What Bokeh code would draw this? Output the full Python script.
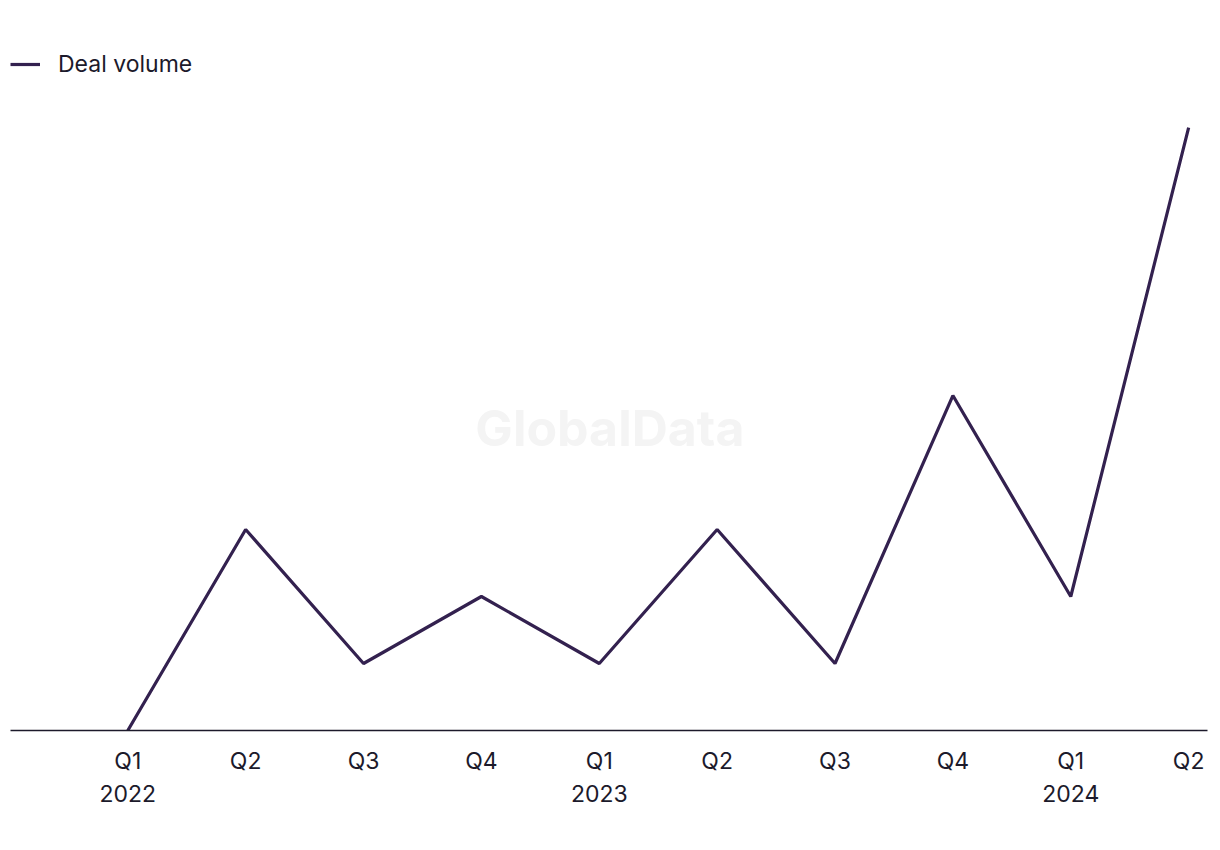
from bokeh.plotting import figure
from bokeh.models import Range1d, Legend, LegendItem, Label, FixedTicker
from bokeh.embed import file_html
from bokeh.resources import INLINE

quarters = ["Q1\n2022", "Q2", "Q3", "Q4", "Q1\n2023", "Q2", "Q3", "Q4", "Q1\n2024", "Q2"]
deal_volume = [0, 3, 1, 2, 1, 3, 1, 5, 2, 9]
series_name = "Deal volume"

xs = list(range(len(quarters)))
FONT = "Inter"
LINE_COLOR = "#33214f"
TEXT_COLOR = "#1c1a2b"

p = figure(width=1220, height=850, output_backend="svg", toolbar_location=None,
           x_range=Range1d(-0.995, 9.16), y_range=Range1d(0, 10.15),
           min_border_left=10, min_border_right=13, min_border_top=50, min_border_bottom=120)
p.outline_line_color = None
p.background_fill_color = "white"
p.border_fill_color = "white"
p.grid.visible = False
p.yaxis.visible = False

wm = Label(x=4.09, y=(730 - 427) / 67.0, text="GlobalData", text_font=FONT,
           text_font_style="bold", text_font_size="50px", text_color="#f4f4f4",
           text_align="center", text_baseline="middle")
p.add_layout(wm)

r = p.line(xs, deal_volume, line_color=LINE_COLOR, line_width=3.2)

ax = p.xaxis[0]
ax.ticker = FixedTicker(ticks=xs)
ax.major_label_overrides = {i: q for i, q in zip(xs, quarters)}
ax.major_tick_line_color = None
ax.minor_tick_line_color = None
ax.axis_line_color = TEXT_COLOR
ax.axis_line_width = 1.5
ax.major_label_text_font = FONT
ax.major_label_text_font_size = "23px"
ax.major_label_text_color = TEXT_COLOR
ax.major_label_standoff = 10

legend = Legend(items=[LegendItem(label=series_name, renderers=[r])],
                location="top_left", orientation="horizontal",
                label_text_font=FONT, label_text_font_size="23px",
                label_text_color=TEXT_COLOR, glyph_width=30, label_standoff=18,
                border_line_color=None, background_fill_alpha=0, padding=0, margin=0)
p.add_layout(legend, "center")

open("out.html", "w").write(file_html(p, INLINE))
